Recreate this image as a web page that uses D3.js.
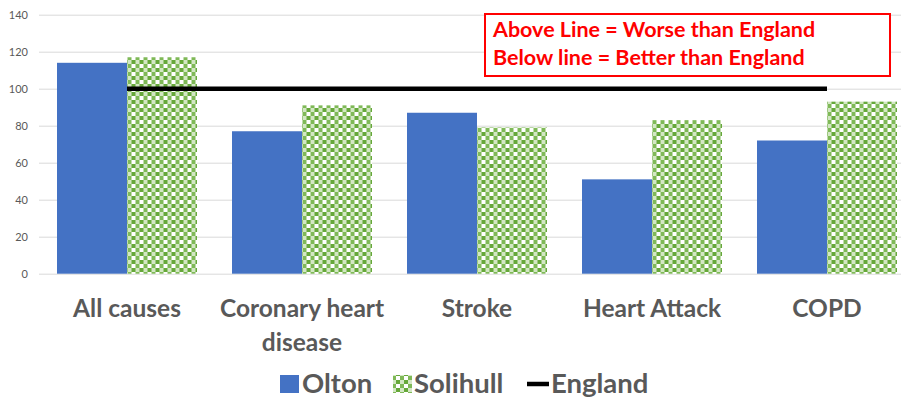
<!DOCTYPE html>
<html>
<head>
<meta charset="utf-8">
<script src="https://cdn.jsdelivr.net/npm/d3@7"></script>
<style>
  html, body { margin: 0; padding: 0; background: #fff; }
  svg { display: block; }
</style>
</head>
<body>
<svg id="chart" width="901" height="404"></svg>
<script>
// Standardised mortality ratios (England = 100)
const categories = [["All causes"], ["Coronary heart", "disease"], ["Stroke"], ["Heart Attack"], ["COPD"]];
const olton    = [114, 77, 87, 51, 72];
const solihull = [117, 91, 79, 83, 93];
const england  = [100, 100, 100, 100, 100];
const yTicks   = [0, 20, 40, 60, 80, 100, 120, 140];
const noteLines = ["Above Line = Worse than England", "Below line = Better than England"];
const seriesNames = ["Olton", "Solihull", "England"];

const svg = d3.select("#chart");
const font = "Lato, 'Open Sans', sans-serif";

// checkerboard fill for the Solihull series
const defs = svg.append("defs");
const pat = defs.append("pattern")
  .attr("id", "checker").attr("patternUnits", "userSpaceOnUse")
  .attr("width", 8).attr("height", 8);
pat.append("rect").attr("width", 8).attr("height", 8).attr("fill", "#ffffff");
pat.append("rect").attr("x", 0).attr("y", 0).attr("width", 4).attr("height", 4).attr("fill", "#7fb957");
pat.append("rect").attr("x", 4).attr("y", 4).attr("width", 4).attr("height", 4).attr("fill", "#66a83a");
pat.append("rect").attr("x", 0).attr("y", 4).attr("width", 4).attr("height", 4).attr("fill", "#d3e7c4");

const idx = d3.range(categories.length);
const x = d3.scaleBand().domain(idx).range([39.5, 914.5]).paddingInner(0).paddingOuter(0);
const inner = d3.scaleBand().domain([0, 1]).range([17.5, x.bandwidth() - 17.5]);
const y = d3.scaleLinear().domain([0, 140]).range([273.7, 14.7]);

// gridlines and y tick labels
const yAxis = d3.axisLeft(y).tickValues(yTicks).tickSize(-(901 - 39)).tickPadding(11);
const gy = svg.append("g").attr("transform", "translate(39,0)").call(yAxis);
gy.select(".domain").remove();
gy.selectAll(".tick line").attr("stroke", "#d9d9d9").attr("stroke-width", 1);
gy.selectAll(".tick text").attr("fill", "#595959").attr("font-family", font)
  .attr("font-size", 11);

// bars
const groups = svg.append("g").selectAll("g").data(idx).join("g")
  .attr("transform", i => `translate(${x(i)},0)`);
groups.append("rect")
  .attr("x", inner(0)).attr("width", inner.bandwidth())
  .attr("y", i => y(olton[i])).attr("height", i => y(0) - y(olton[i]))
  .attr("fill", "#4472c4");
groups.append("rect")
  .attr("x", inner(1)).attr("width", inner.bandwidth())
  .attr("y", i => y(solihull[i])).attr("height", i => y(0) - y(solihull[i]))
  .attr("fill", "url(#checker)");

// England reference line
const line = d3.line().x(i => x(i) + x.bandwidth() / 2).y(i => y(england[i]));
svg.append("path").datum(idx).attr("d", line)
  .attr("fill", "none").attr("stroke", "#000").attr("stroke-width", 4.5);

// category labels
const cat = svg.append("g").selectAll("text").data(idx).join("text")
  .attr("x", i => x(i) + x.bandwidth() / 2)
  .attr("y", 317)
  .attr("text-anchor", "middle")
  .attr("font-family", font).attr("font-weight", "bold").attr("font-size", 24.5)
  .attr("fill", "#595959");
cat.selectAll("tspan").data(i => categories[i]).join("tspan")
  .attr("x", function () { return this.parentNode.getAttribute("x"); })
  .attr("dy", (d, j) => j === 0 ? 0 : 34)
  .text(d => d);

// annotation box
svg.append("rect").attr("x", 485).attr("y", 14).attr("width", 405).attr("height", 62)
  .attr("fill", "#fff").attr("stroke", "#ff0000").attr("stroke-width", 2);
svg.append("g").selectAll("text").data(noteLines).join("text")
  .attr("x", 493).attr("y", (d, j) => 36.5 + j * 28)
  .attr("font-family", font).attr("font-weight", "bold").attr("font-size", 21.5)
  .attr("fill", "#ff0000").text(d => d);

// legend
const lg = svg.append("g").attr("font-family", font).attr("font-weight", "bold")
  .attr("font-size", 27.5).attr("fill", "#595959");
lg.append("rect").attr("x", 280).attr("y", 375).attr("width", 19).attr("height", 18).attr("fill", "#4472c4");
lg.append("text").attr("x", 302).attr("y", 393).text(seriesNames[0]);
lg.append("rect").attr("x", 393).attr("y", 375).attr("width", 19).attr("height", 18).attr("fill", "url(#checker)");
lg.append("text").attr("x", 414).attr("y", 393).text(seriesNames[1]);
lg.append("line").attr("x1", 527).attr("x2", 549).attr("y1", 384).attr("y2", 384)
  .attr("stroke", "#000").attr("stroke-width", 4.5);
lg.append("text").attr("x", 551).attr("y", 393).text(seriesNames[2]);
</script>
</body>
</html>
